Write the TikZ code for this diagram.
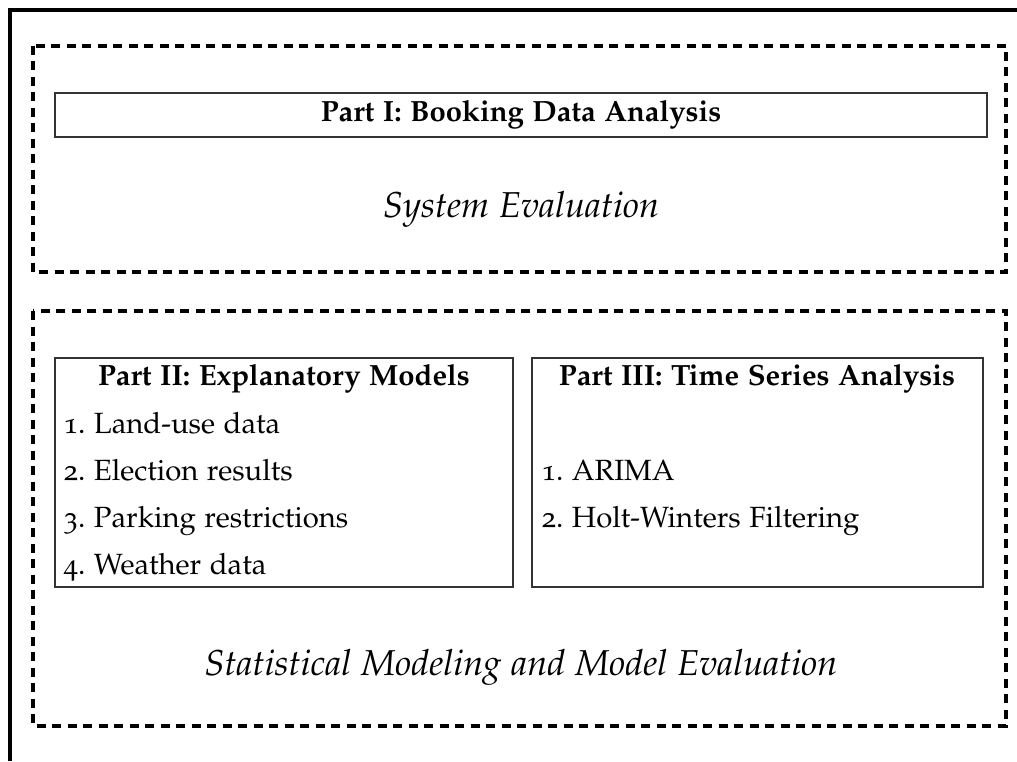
\documentclass[tikz,border=0pt]{standalone}
\usepackage[T1]{fontenc}
\usepackage[osf]{mathpazo}
\frenchspacing
\begin{document}
\begin{tikzpicture}[x=0.4pt,y=-0.4pt,
  frame/.style={line width=1.6pt},
  group/.style={line width=1.6pt,dash pattern=on 3.6pt off 2.6pt},
  partbox/.style={draw=black!80,line width=0.6pt},
  head/.style={font=\fontsize{11.7}{14}\selectfont\bfseries,anchor=base,inner sep=0pt},
  item/.style={font=\fontsize{11.7}{14}\selectfont,anchor=base west,inner sep=0pt},
  big/.style={font=\fontsize{14.4}{17}\selectfont\itshape,anchor=base,inner sep=0pt}]
\useasboundingbox (0,0) rectangle (1017,761);
\draw[frame] (10,761) -- (10,10) -- (1017,10);
\draw[group] (33,45.5) rectangle (1006,272);
\draw[group] (33,311) rectangle (1006,726);
\draw[partbox] (55,93) rectangle (987,137);
\node[head] (p1) at (521,121) {Part I: Booking Data Analysis};
\node[big] (sys) at (521,217) {System Evaluation};
\draw[partbox] (55,358) rectangle (513,587);
\draw[partbox] (532,358) rectangle (983,587);
\node[head] (p2) at (284,385) {Part II: Explanatory Models};
\node[item] (a1) at (63,433) {1. Land-use data};
\node[item] (a2) at (63,480) {2. Election results};
\node[item] (a3) at (63,527) {3. Parking restrictions};
\node[item] (a4) at (63,574) {4. Weather data};
\node[head] (p3) at (757,385) {Part III: Time Series Analysis};
\node[item] (b1) at (541,480) {1. ARIMA};
\node[item] (b2) at (541,527) {2. Holt-Winters Filtering};
\node[big] (stat) at (521,675) {Statistical Modeling and Model Evaluation};
\end{tikzpicture}
\end{document}
